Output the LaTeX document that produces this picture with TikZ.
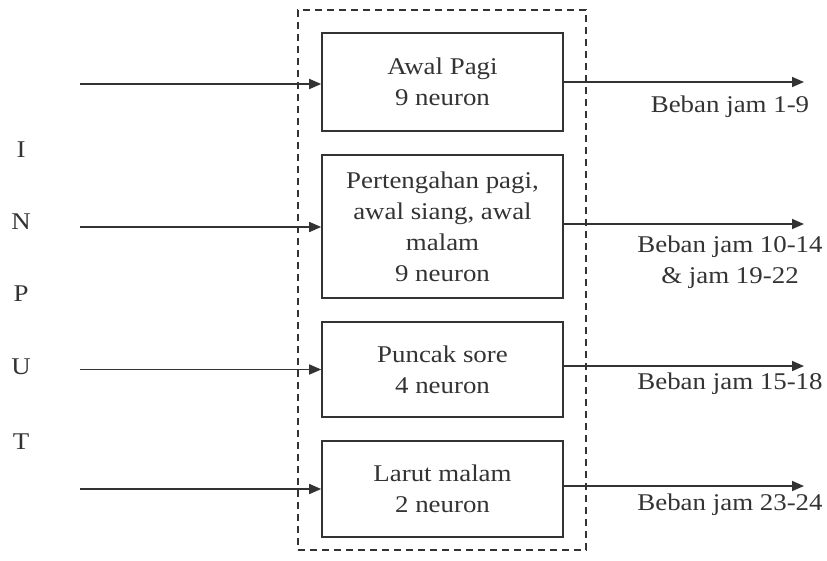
\documentclass[tikz,border=0pt]{standalone}
\usepackage{fontspec}
\setmainfont{Liberation Serif}[FakeStretch=1.12]
\usetikzlibrary{arrows.meta}
\definecolor{ink}{HTML}{333333}
\begin{document}
\begin{tikzpicture}[x=1pt,y=-1pt,
  every node/.style={text=ink, font=\fontsize{24}{31}\selectfont},
  blk/.style={draw=ink, line width=1.6pt, minimum width=241pt, align=center, inner sep=2pt},
  frm/.style={draw=ink, line width=1.4pt, dash pattern=on 7pt off 5pt, minimum width=288pt, minimum height=540pt},
  arr/.style={draw=ink, line width=1.6pt, -{Triangle[length=12pt,width=10pt]}},
  lbl/.style={align=center, inner sep=0pt}
]
\useasboundingbox (0,0) rectangle (827,560);
\node[frm] (frame) at (442,280) {};
\node[blk, minimum height=98pt] (b1) at (442.5,82) {Awal Pagi\\9 neuron};
\node[blk, minimum height=143pt] (b2) at (442.5,226.5) {Pertengahan pagi,\\awal siang, awal\\malam\\9 neuron};
\node[blk, minimum height=95pt] (b3) at (442.5,369.5) {Puncak sore\\4 neuron};
\node[blk, minimum height=96pt] (b4) at (442.5,489) {Larut malam\\2 neuron};

\coordinate (i1) at (80,84);
\coordinate (i2) at (80,227);
\coordinate (i3) at (80,369.5);
\coordinate (i4) at (80,489);
\coordinate (o1) at (804,82);
\coordinate (o2) at (804,224);
\coordinate (o3) at (804,366);
\coordinate (o4) at (804,486);

\draw[arr] (i1) -- (b1.west |- i1);
\draw[arr] (i2) -- (b2.west |- i2);
\draw[arr] (i3) -- (b3.west);
\draw[arr] (i4) -- (b4.west);
\draw[arr] (b1.east |- o1) -- (o1);
\draw[arr] (b2.east |- o2) -- (o2);
\draw[arr] (b3.east |- o3) -- (o3);
\draw[arr] (b4.east |- o4) -- (o4);

\node[lbl] (l1) at (730,107) {Beban jam 1-9};
\node[lbl] (l2) at (730,262) {Beban jam 10-14\\\& jam 19-22};
\node[lbl] (l3) at (730,384) {Beban jam 15-18};
\node[lbl] (l4) at (730,505) {Beban jam 23-24};

\node[lbl] (cI) at (21,150) {I};
\node[lbl] (cN) at (21,222) {N};
\node[lbl] (cP) at (21,294) {P};
\node[lbl] (cU) at (21,367) {U};
\node[lbl] (cT) at (21,442) {T};
\end{tikzpicture}
\end{document}
